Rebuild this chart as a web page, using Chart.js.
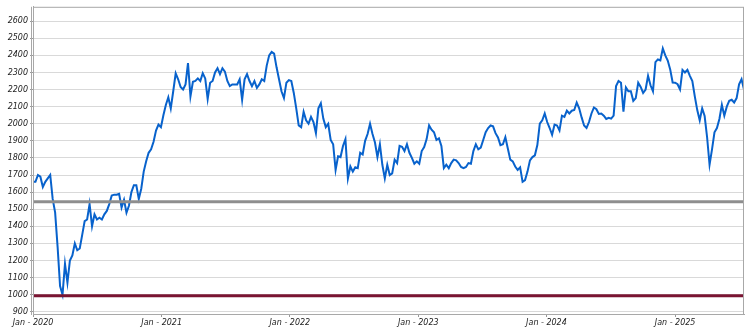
<!DOCTYPE html>
<html>
<head>
<meta charset="utf-8">
<script src="https://cdn.jsdelivr.net/npm/chart.js@4.4.1/dist/chart.umd.min.js"></script>
<style>
  html, body { margin: 0; padding: 0; background: #fff; }
  #wrap { width: 750px; height: 328px; }
</style>
</head>
<body>
<div id="wrap"><canvas id="chart"></canvas></div>
<script>
// weekly closes, first week of Jan 2020 onwards
const years = [2020, 2021, 2022, 2023, 2024, 2025];
const yearStartWeek = [0, 52.3, 104.4, 156.6, 208.7, 261.0];
const yTicks = [900, 1000, 1100, 1200, 1300, 1400, 1500, 1600, 1700, 1800, 1900, 2000, 2100, 2200, 2300, 2400, 2500, 2600];
const upperLevel = 1543;
const lowerLevel = 994;

const weekly = [
  1660,1660,1700,1690,1630,1660,1680,1700,1560,1480,
  1280,1050,1000,1180,1070,1200,1230,1300,1260,1270,
  1350,1430,1440,1530,1400,1470,1440,1450,1440,1470,
  1490,1530,1580,1585,1585,1590,1510,1555,1480,1520,
  1600,1640,1640,1560,1620,1720,1780,1830,1850,
  1895,1960,1995,1980,2050,2110,2155,2090,2190,2295,
  2260,2215,2200,2230,2355,2160,2245,2250,2265,2250,
  2295,2265,2145,2240,2250,2300,2325,2290,2325,2305,
  2250,2220,2230,2230,2230,2260,2140,2260,2290,2250,
  2220,2250,2210,2230,2260,2250,2340,2400,
  2420,2410,2330,2260,2190,2150,2240,2255,2250,2180,
  2090,1990,1980,2070,2020,2000,2040,2010,1945,2090,
  2120,2030,1980,2000,1905,1880,1730,1810,1805,1870,
  1910,1680,1750,1720,1745,1740,1830,1820,1900,1940,
  2000,1940,1890,1805,1880,1760,1680,1760,
  1700,1710,1790,1770,1870,1865,1840,1880,1830,1800,
  1766,1780,1766,1840,1863,1910,1990,1965,1950,1905,
  1915,1870,1740,1760,1740,1770,1790,1786,1770,1747,
  1740,1747,1770,1766,1840,1880,1850,1860,1905,1950,
  1975,1990,1985,1945,1920,1875,1880,1921,
  1855,1790,1780,1750,1730,1745,1660,1670,1720,1786,
  1805,1815,1875,2000,2020,2060,2010,1975,1935,1995,
  1990,1960,2047,2040,2076,2060,2076,2080,2124,2090,
  2037,1990,1975,2010,2060,2095,2085,2057,2060,2047,
  2028,2035,2030,2047,2220,2250,2240,2070,
  2212,2190,2190,2134,2150,2240,2215,2180,2200,2280,
  2225,2190,2360,2376,2370,2440,2400,2370,2318,2241,
  2240,2231,2200,2315,2300,2315,2280,2250,2160,2080,
  2020,2090,2045,1921,1760,1850,1950,1975,2028,2110,
  2047,2100,2134,2140,2124,2150,2230,2260,2200
];

const lastWeek = weekly.length - 1;
const tickFont = { family: "'DejaVu Sans'", size: 8, style: 'italic' };

// grey frame round the plot, with the doubled left edge
const frame = {
  id: 'frame',
  afterDraw(chart) {
    const { ctx, chartArea: a } = chart;
    ctx.save();
    ctx.strokeStyle = '#a8a8a8';
    ctx.lineWidth = 1;
    ctx.strokeRect(a.left + 0.5, a.top + 0.5, a.right - a.left - 1, a.bottom - a.top);
    ctx.beginPath();
    ctx.moveTo(a.left - 1.5, a.top);
    ctx.lineTo(a.left - 1.5, a.bottom + 1);
    ctx.stroke();
    ctx.restore();
  }
};

const level = v => [{ x: 0, y: v }, { x: lastWeek, y: v }];

new Chart(document.getElementById('chart'), {
  type: 'line',
  data: {
    datasets: [
      {
        data: level(upperLevel),
        borderColor: '#8e8e8e',
        borderWidth: 3,
        pointRadius: 0,
        order: 0
      },
      {
        data: level(lowerLevel),
        borderColor: '#7a1432',
        borderWidth: 3,
        pointRadius: 0,
        order: 0
      },
      {
        data: weekly.map((v, i) => ({ x: i, y: v })),
        borderColor: '#0862cc',
        borderWidth: 2,
        pointRadius: 0,
        tension: 0,
        order: 1
      }
    ]
  },
  options: {
    responsive: true,
    maintainAspectRatio: false,
    animation: false,
    layout: { padding: { top: 5, right: 6, left: 0, bottom: 0 } },
    plugins: { legend: { display: false }, tooltip: { enabled: false } },
    scales: {
      x: {
        type: 'linear',
        min: 0,
        max: lastWeek,
        afterBuildTicks: s => { s.ticks = yearStartWeek.map(v => ({ value: v })); },
        afterFit: s => { s.height = 14; },
        ticks: {
          autoSkip: false,
          maxRotation: 0,
          padding: 1,
          font: tickFont,
          color: '#222',
          callback: (v, i) => 'Jan - ' + years[i]
        },
        grid: { drawOnChartArea: false, tickLength: 3, tickColor: '#999' },
        border: { color: '#a8a8a8' }
      },
      y: {
        min: 887,
        max: 2684,
        afterBuildTicks: s => { s.ticks = yTicks.map(v => ({ value: v })); },
        afterFit: s => { s.width = 33; },
        ticks: { font: tickFont, color: '#222', padding: 2, callback: v => String(v) },
        grid: { color: '#d9d9d9', lineWidth: 1, tickLength: 3, tickColor: '#999' },
        border: { color: '#a8a8a8' }
      }
    }
  },
  plugins: [frame]
});
</script>
</body>
</html>
